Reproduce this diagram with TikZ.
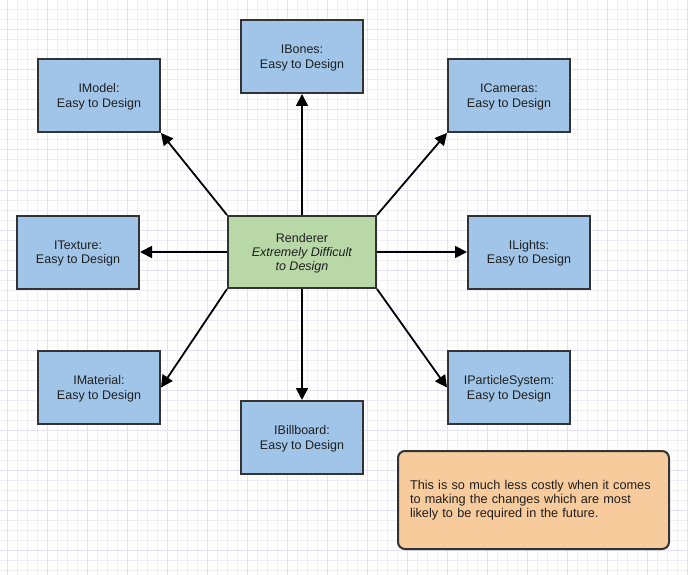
\documentclass[tikz,border=0pt]{standalone}
\usepackage{fontspec}
\setmainfont{Liberation Sans}
\usetikzlibrary{arrows.meta,positioning}
\definecolor{gridminor}{HTML}{EFEDFA}
\definecolor{gridmajor}{HTML}{E4E1F7}
\definecolor{ifaceblue}{HTML}{A0C5E8}
\definecolor{coregreen}{HTML}{B9D8A8}
\definecolor{noteorange}{HTML}{F8CB9C}
\definecolor{edgegray}{HTML}{333333}

\begin{document}
\begin{tikzpicture}[x=1pt,y=-1pt,
  gridline/.style={gridminor,line width=1pt},
  gridbold/.style={gridmajor,line width=1pt},
  iface/.style={draw=edgegray,fill=ifaceblue,line width=2pt,minimum width=122pt,minimum height=73pt,align=center,font=\fontsize{12.5}{14.5}\selectfont,text depth=-1.5pt,text=black!88},
  core/.style={draw=edgegray,fill=coregreen,line width=2pt,minimum width=148pt,minimum height=72pt,align=center,font=\fontsize{12.5}{14}\selectfont,text depth=-1.5pt,text=black!88},
  note/.style={draw=edgegray,fill=noteorange,line width=2pt,rounded corners=7pt,minimum height=98pt,text width=247pt,inner xsep=12pt,align=left,font=\fontsize{12.7}{14}\selectfont,text=black!88},
  arrow/.style={-{Triangle[length=12pt,width=12pt]},line width=1.8pt,black}
]
\useasboundingbox (0,0) rectangle (688,575);
\fill[white] (0,0) rectangle (688,575);
% background grid
\foreach \gx in {7,17,...,687} \draw[gridline] (\gx,0) -- (\gx,575);
\foreach \gy in {10,20,...,570} \draw[gridline] (0,\gy) -- (688,\gy);
\foreach \gx in {7,47,...,687} \draw[gridbold] (\gx,0) -- (\gx,575);
\foreach \gy in {30,70,...,570} \draw[gridbold] (0,\gy) -- (688,\gy);

\node[core] (renderer) at (302,252) {Renderer\\\textit{Extremely Difficult}\\\textit{to Design}};
\node[iface,above=121pt of renderer] (bones) {IBones:\\Easy to Design};
\node[iface,below=111pt of renderer] (billboard) {IBillboard:\\Easy to Design};
\node[iface,left=87pt of renderer] (texture) {ITexture:\\Easy to Design};
\node[iface,right=90pt of renderer] (lights) {ILights:\\Easy to Design};
\node[iface,above left=82pt and 66pt of renderer] (model) {IModel:\\Easy to Design};
\node[iface,above right=82pt and 70pt of renderer] (cameras) {ICameras:\\Easy to Design};
\node[iface,below left=61pt and 66pt of renderer] (material) {IMaterial:\\Easy to Design};
\node[iface,below right=61pt and 70pt of renderer] (particles) {IParticleSystem:\\Easy to Design};
\node[note] (costnote) at (533.5,500) {This is so much less costly when it comes\\to making the changes which are most\\likely to be required in the future.};

\draw[arrow] (renderer.north) -- (bones.south);
\draw[arrow] (renderer.south) -- (billboard.north);
\draw[arrow] (renderer.west) -- (texture.east);
\draw[arrow] (renderer.east) -- (lights.west);
\draw[arrow] (renderer.north west) -- (model.south east);
\draw[arrow] (renderer.north east) -- (cameras.south west);
\draw[arrow] (renderer.south west) -- (material.east);
\draw[arrow] (renderer.south east) -- (particles.west);
\end{tikzpicture}
\end{document}
